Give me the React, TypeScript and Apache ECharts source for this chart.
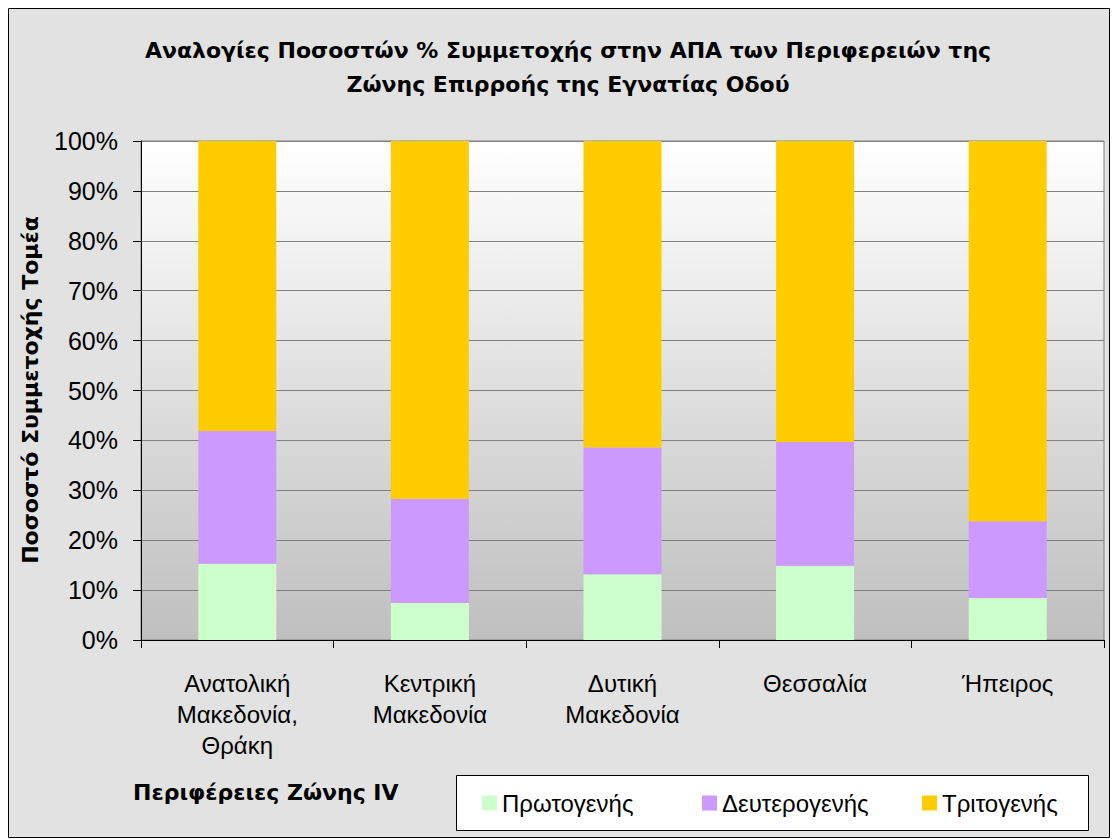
import React, { useEffect, useRef } from "react";
import * as echarts from "echarts";

const titleLines = [
  "Αναλογίες Ποσοστών % Συμμετοχής στην ΑΠΑ των Περιφερειών της",
  "Ζώνης Επιρροής της Εγνατίας Οδού",
];
const categories = [
  "Ανατολική\nΜακεδονία,\nΘράκη",
  "Κεντρική\nΜακεδονία",
  "Δυτική\nΜακεδονία",
  "Θεσσαλία",
  "Ήπειρος",
];
const seriesNames = ["Πρωτογενής", "Δευτερογενής", "Τριτογενής"];
const primary = [15.3, 7.4, 13.2, 14.9, 8.4];
const secondary = [26.6, 20.9, 25.4, 24.8, 15.4];
const tertiary = [58.1, 71.7, 61.4, 60.3, 76.2];
const seriesColors = ["#CCFFCC", "#CC99FF", "#FFCC00"];
const yAxisTitle = "Ποσοστό Συμμετοχής Τομέα";
const xAxisTitle = "Περιφέρειες Ζώνης IV";

const BOLD = "DejaVu Sans";
const REG = "Liberation Sans";
const legendLefts = [482, 702, 922];

export default function App() {
  const ref = useRef<HTMLDivElement>(null);
  useEffect(() => {
    if (!ref.current) return;
    const chart = echarts.init(ref.current, null, { renderer: "svg" });
    const values = [primary, secondary, tertiary];
    chart.setOption({
      animation: false,
      backgroundColor: "#ffffff",
      graphic: [
        {
          type: "rect",
          z: -100,
          silent: true,
          shape: { x: 8.5, y: 8.5, width: 1101, height: 829 },
          style: { fill: "#e2e2e2", stroke: "#000000", lineWidth: 1 },
        },
        {
          type: "rect",
          z: 1,
          silent: true,
          shape: { x: 456.5, y: 775.5, width: 632, height: 55 },
          style: { fill: "#ffffff", stroke: "#000000", lineWidth: 1 },
        },
        {
          type: "text",
          z: 10,
          x: 568,
          y: 50,
          style: {
            text: titleLines[0],
            font: `bold 22px '${BOLD}'`,
            fill: "#000",
            align: "center",
            verticalAlign: "middle",
          },
        },
        {
          type: "text",
          z: 10,
          x: 568,
          y: 84,
          style: {
            text: titleLines[1],
            font: `bold 22px '${BOLD}'`,
            fill: "#000",
            align: "center",
            verticalAlign: "middle",
          },
        },
        {
          type: "text",
          z: 10,
          x: 30,
          y: 390,
          rotation: Math.PI / 2,
          style: {
            text: yAxisTitle,
            font: `bold 22px '${BOLD}'`,
            fill: "#000",
            align: "center",
            verticalAlign: "middle",
          },
        },
        {
          type: "text",
          z: 10,
          x: 133,
          y: 792,
          style: {
            text: xAxisTitle,
            font: `bold 22px '${BOLD}'`,
            fill: "#000",
            align: "left",
            verticalAlign: "middle",
          },
        },
      ],
      grid: {
        left: 141,
        top: 141,
        right: 1116 - 1104,
        bottom: 839 - 640,
        show: true,
        borderColor: "#808080",
        borderWidth: 1,
        backgroundColor: new echarts.graphic.LinearGradient(0, 0, 0, 1, [
          { offset: 0, color: "#ffffff" },
          { offset: 1, color: "#bfbfbf" },
        ]),
      },
      legend: seriesNames.map((n, i) => ({
        left: legendLefts[i],
        top: 791,
        orient: "horizontal",
        padding: 0,
        itemWidth: 15,
        itemHeight: 15,
        icon: "rect",
        z: 5,
        data: [n],
        textStyle: {
          fontFamily: REG,
          fontSize: 24,
          color: "#000",
        },
      })),
      xAxis: {
        type: "category",
        data: categories,
        axisLine: { show: true, lineStyle: { color: "#000", width: 1 } },
        axisTick: {
          show: true,
          alignWithLabel: false,
          length: 8,
          lineStyle: { color: "#000" },
        },
        axisLabel: {
          interval: 0,
          margin: 28,
          fontFamily: REG,
          fontSize: 24,
          lineHeight: 31,
          color: "#000",
          align: "center",
        },
        splitLine: { show: false },
      },
      yAxis: {
        type: "value",
        min: 0,
        max: 100,
        interval: 10,
        axisLine: { show: true, lineStyle: { color: "#000", width: 1 } },
        axisTick: { show: true, length: 8, lineStyle: { color: "#000" } },
        axisLabel: {
          formatter: "{value}%",
          margin: 23,
          fontFamily: REG,
          fontSize: 25,
          color: "#000",
        },
        splitLine: { show: true, lineStyle: { color: "#808080", width: 1 } },
      },
      series: seriesNames.map((name, i) => ({
        name,
        type: "bar",
        stack: "total",
        barWidth: "40.5%",
        data: values[i],
        itemStyle: { color: seriesColors[i] },
        emphasis: { disabled: true },
      })),
    });
    return () => chart.dispose();
  }, []);
  return (
    <div
      ref={ref}
      style={{ position: "absolute", left: 0, top: 0, width: 1116, height: 839 }}
    />
  );
}
